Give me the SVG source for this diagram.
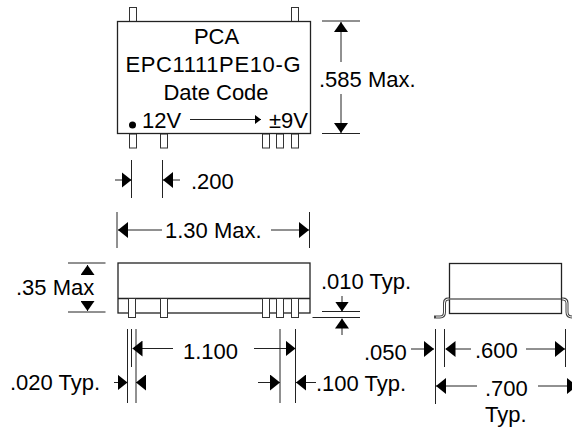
<svg xmlns="http://www.w3.org/2000/svg" width="572" height="430" viewBox="0 0 572 430">
<style>
text{font-family:"Liberation Sans",Arial,sans-serif;font-size:22px;fill:#000}
.m{text-anchor:middle}
.o{fill:#fff;stroke:#333;stroke-width:1}
.l{fill:none;stroke:#222;stroke-width:1}
.h{fill:none;stroke:#222;stroke-width:1.3}
</style>
<defs>
<marker id="a" markerUnits="userSpaceOnUse" markerWidth="10" markerHeight="16" refX="10" refY="8" orient="auto"><path d="M0 0L10 8L0 16Z" fill="#000"/></marker>
<marker id="v" markerUnits="userSpaceOnUse" markerWidth="10" markerHeight="14" refX="10" refY="7" orient="auto"><path d="M0 0L10 7L0 14Z" fill="#000"/></marker>
<marker id="s" markerUnits="userSpaceOnUse" markerWidth="6" markerHeight="9" refX="6" refY="4.500" orient="auto"><path d="M0 0L6 4.500L0 9Z" fill="#000"/></marker>
</defs>
<g id="top-view">
<rect class="o" x="129.500" y="7.500" width="7" height="14"/>
<rect class="o" x="291.500" y="7.500" width="7" height="14"/>
<rect class="o" x="129.500" y="134" width="7" height="14"/>
<rect class="o" x="160.500" y="134" width="7" height="14"/>
<rect class="o" x="262.500" y="134" width="7" height="14"/>
<rect class="o" x="276.500" y="134" width="7" height="14"/>
<rect class="o" x="291.500" y="134" width="7" height="14"/>
<rect class="h" x="117.500" y="21.500" width="193" height="112" fill="#fff"/>
<circle cx="132.500" cy="125" r="3.500" fill="#000"/>
<text class="m" x="216.500" y="44">PCA</text>
<text class="m" x="213" y="72" textLength="175" lengthAdjust="spacing">EPC1111PE10-G</text>
<text class="m" x="216" y="100">Date Code</text>
<text x="142" y="128">12V</text>
<text x="269" y="128">±9V</text>
</g>
<g id="side-view">
<rect class="h" x="118" y="263" width="192" height="50"/>
<path class="h" d="M118 298.500H310"/>
<rect class="o" x="128.500" y="298.500" width="7" height="19"/>
<rect class="o" x="160.500" y="298.500" width="7" height="19"/>
<rect class="o" x="262.500" y="298.500" width="7" height="19"/>
<rect class="o" x="276.500" y="298.500" width="7" height="19"/>
<rect class="o" x="291.500" y="298.500" width="7" height="19"/>
</g>
<g id="end-view">
<path d="M449 299H448Q444.500 299 444.500 303V312Q444.500 317 440 317H434M561 299H563Q567 299 567 303V312Q567 317 572 317" fill="none" stroke="#444" stroke-width="3"/>
<path d="M449 299H448Q444.500 299 444.500 303V312Q444.500 317 440 317H436M561 299H563Q567 299 567 303V312Q567 317 572 317" fill="none" stroke="#fff" stroke-width="1"/>
<rect class="h" x="449.500" y="263.500" width="112" height="50"/>
<path d="M449 299H561" fill="none" stroke="#666" stroke-width="1.500"/>
</g>
<g id="connectors">
<path class="l" marker-end="url(#s)" d="M190 119.500H261"/>
<path class="l" d="M322 21H360M322 133.500H360"/>
<path class="l" marker-end="url(#v)" d="M341 62V22"/>
<path class="l" marker-end="url(#v)" d="M341 94V133"/>
<path class="l" d="M131.500 160V198M162.500 160V198"/>
<path class="l" marker-end="url(#a)" d="M115 180H131.500"/>
<path class="l" marker-end="url(#a)" d="M180 180H163"/>

<path class="l" d="M117 212V248M309.500 212V248"/>
<path class="l" marker-end="url(#a)" d="M162 230H118"/>
<path class="l" marker-end="url(#a)" d="M271 230H309"/>

<path class="l" d="M68 263H105.500M68 312H105.500"/>
<path class="l" marker-end="url(#v)" d="M87.500 274.500V265"/>
<path class="l" marker-end="url(#v)" d="M87.500 303V311"/>

<path class="l" d="M322 311.500H360M312.500 317.500H360"/>
<path class="l" marker-end="url(#v)" d="M342 296V311.500"/>
<path class="l" marker-end="url(#v)" d="M342 335V318.500"/>

<path class="l" d="M127.500 329V403M131.500 329V367M136 329V403M280 329V403M295.500 329V403"/>
<path class="l" marker-end="url(#a)" d="M173 348.500H132.500"/>
<path class="l" marker-end="url(#a)" d="M254 348.500H295.500"/>
<path class="l" marker-end="url(#a)" d="M114 382.500H127.500"/>
<path class="l" marker-end="url(#a)" d="M146 382.500H136"/>
<path class="l" marker-end="url(#a)" d="M258 382.500H280"/>
<path class="l" marker-end="url(#a)" d="M316 382.500H296"/>

<path class="l" d="M435.500 329V404M444.500 329V367M565.500 329V367"/>
<path class="l" marker-end="url(#a)" d="M411 349H434"/>
<path class="l" marker-end="url(#a)" d="M471 349H445.500"/>
<path class="l" marker-end="url(#a)" d="M526 349H565"/>
<path class="l" marker-end="url(#a)" d="M477 386H436"/>
<path class="l" marker-end="url(#a)" d="M538 386H577"/>
</g>
<g id="labels">
<text x="319" y="87">.585 Max.</text>
<text x="191" y="189">.200</text>
<text x="165" y="238">1.30 Max.</text>
<text x="16" y="295">.35 Max</text>
<text x="321" y="289">.010 Typ.</text>
<text x="183" y="359">1.100</text>
<text x="10" y="390">.020 Typ.</text>
<text x="316" y="391">.100 Typ.</text>
<text x="364" y="360">.050</text>
<text x="475" y="358">.600</text>
<text x="485" y="396">.700</text>
<text x="485" y="422">Typ.</text>
</g>
</svg>
